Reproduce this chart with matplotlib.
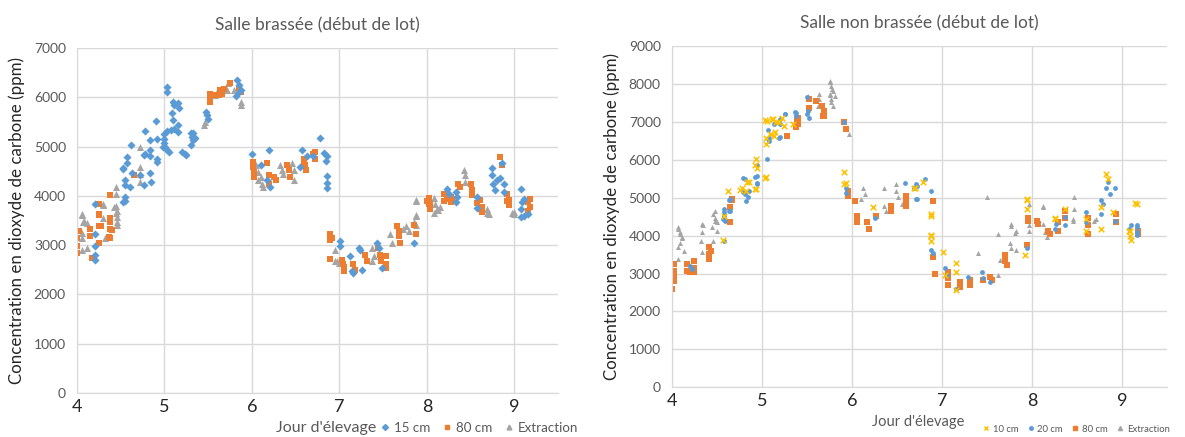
import matplotlib
matplotlib.use("Agg")
import matplotlib.pyplot as plt
from matplotlib.lines import Line2D

plt.rcParams['font.family'] = ['Lato', 'DejaVu Sans']

# ---- Salle brassée (day, ppm) ----
brasse_15cm = [
    (4.21, 3830), (4.55, 3900), (4.21, 3220), (4.21, 2980), (4.21, 2810), (4.21, 2700),
    (4.52, 3880), (4.55, 3980), (4.57, 4790), (4.57, 4670), (4.53, 4560), (4.52, 4540),
    (4.55, 4320), (4.55, 4220), (4.60, 4180), (4.63, 4470), (4.62, 5030),
    (4.72, 4420), (4.76, 4220), (4.84, 4290), (4.83, 4460), (4.91, 4760), (4.91, 4680),
    (4.90, 5530), (4.78, 5320), (4.83, 5130), (4.91, 5150), (4.83, 4930), (4.78, 4860),
    (4.76, 4830), (4.83, 4810),
    (5.00, 5150), (5.00, 5080), (5.01, 5000), (5.03, 4930), (5.05, 4900), (5.00, 5250),
    (5.03, 5320), (4.98, 5000),
    (5.03, 6220), (5.03, 6120), (5.10, 5900), (5.11, 5850), (5.16, 5880), (5.17, 5780),
    (5.09, 5680), (5.10, 5540), (5.16, 5440), (5.11, 5350), (5.08, 5330), (5.16, 5300),
    (5.20, 4900), (5.24, 4860), (5.25, 4830), (5.30, 5030), (5.32, 5200), (5.33, 5270),
    (5.35, 5170), (5.33, 5130), (5.30, 5270),
    (5.47, 5710), (5.49, 5640), (5.50, 5570),
    (5.83, 6350), (5.85, 6250), (5.82, 6020), (5.85, 6120), (5.87, 6150),
    (6.00, 4860), (6.10, 4620), (6.17, 4320), (6.21, 4180), (6.20, 4930),
    (6.55, 4590), (6.57, 4930), (6.63, 4810), (6.70, 4810), (6.78, 5180), (6.82, 4880),
    (6.86, 4810), (6.85, 4710), (6.86, 4400), (6.86, 4270), (6.86, 4170),
    (7.01, 3080), (7.01, 2980), (7.12, 2780), (7.14, 2470), (7.16, 2440), (7.22, 2950),
    (7.24, 2910), (7.26, 2500), (7.43, 3050), (7.45, 2950), (7.49, 2540), (7.85, 3050),
    (8.23, 4150), (8.25, 4050), (8.33, 4080), (8.33, 3870), (8.34, 3980), (8.57, 3980),
    (8.57, 3760),
    (8.74, 4560), (8.74, 4420), (8.76, 4250), (8.78, 4120), (8.80, 4320), (8.84, 4360),
    (8.88, 4250), (8.88, 4080), (8.86, 4660),
    (9.07, 4150), (9.07, 3740), (9.07, 3570), (9.09, 3870), (9.11, 3600), (9.15, 3640),
    (9.11, 3930),
]
brasse_80cm = [
    (4.00, 3150), (4.00, 2980), (4.00, 2840), (4.02, 3290), (4.15, 3320), (4.15, 3180),
    (4.17, 2740), (4.25, 3830), (4.25, 3630), (4.25, 3610), (4.25, 3390), (4.25, 3050),
    (4.27, 3400), (4.38, 4010), (4.38, 3560), (4.38, 3490), (4.38, 3320), (4.38, 3150),
    (4.40, 3300), (4.36, 3160), (4.38, 3540), (4.38, 3470), (4.65, 4420),
    (5.52, 6080), (5.52, 5980), (5.52, 5910), (5.56, 6050), (5.62, 6050), (5.64, 6150),
    (5.68, 6170), (5.66, 6080), (5.75, 6300), (5.85, 6200), (5.87, 6120),
    (6.01, 4690), (6.01, 4590), (6.02, 4490), (6.02, 4390), (6.17, 4660), (6.19, 4420),
    (6.19, 4250), (6.25, 4390), (6.27, 4320), (6.40, 4630), (6.42, 4520), (6.43, 4390),
    (6.60, 4700), (6.60, 4600), (6.62, 4530), (6.70, 4860), (6.72, 4760), (6.59, 4760),
    (6.61, 4620), (6.72, 4900),
    (6.89, 3220), (6.89, 3110), (6.91, 3150), (6.89, 2720), (7.03, 2710), (7.04, 2610),
    (7.05, 2470), (7.05, 2560), (7.16, 2610), (7.18, 2500), (7.29, 2810), (7.31, 2670),
    (7.44, 2950), (7.46, 2810), (7.48, 2670), (7.53, 2780), (7.53, 2610), (7.53, 2540),
    (7.66, 3390), (7.68, 3290), (7.68, 3180), (7.69, 3050), (7.87, 3220), (7.85, 3420),
    (8.00, 3900), (8.02, 3830), (8.02, 3950), (8.04, 3840), (8.04, 3740), (8.19, 4050),
    (8.19, 3900), (8.23, 3930), (8.27, 3980), (8.28, 3880), (8.29, 3930), (8.36, 4250),
    (8.38, 4180), (8.50, 4250), (8.52, 4120), (8.52, 4010), (8.57, 3860), (8.61, 3910),
    (8.63, 3770), (8.63, 3670), (8.61, 3730),
    (8.84, 4790), (8.86, 4620), (8.92, 4050), (8.94, 3910), (8.94, 3810), (8.92, 3900),
    (9.16, 3880), (9.18, 3770), (9.16, 3670), (9.15, 3690), (9.18, 3930),
]
brasse_extraction = [
    (4.06, 3630), (4.08, 3490), (4.11, 3460), (4.06, 3610), (4.07, 3470), (4.06, 3250),
    (4.06, 3150), (4.11, 2950), (4.06, 2910), (4.30, 3830), (4.30, 3560), (4.32, 3150),
    (4.30, 3810), (4.44, 3800), (4.44, 3660), (4.46, 3420), (4.42, 3770), (4.46, 3700),
    (4.46, 3570), (4.46, 3470), (4.44, 4180), (4.44, 4050),
    (4.72, 5000), (4.72, 4590), (4.72, 4450), (4.72, 4280),
    (5.45, 5440), (5.46, 5510), (5.58, 6050), (5.60, 6120), (5.71, 6150), (5.73, 6290),
    (5.80, 6150), (5.87, 5910), (5.87, 5840),
    (6.05, 4620), (6.07, 4480), (6.10, 4390), (6.11, 4250), (6.13, 4180), (6.07, 4320),
    (6.32, 4620), (6.34, 4520), (6.36, 4450), (6.46, 4660), (6.48, 4520), (6.48, 4320),
    (6.95, 2910), (6.95, 2670), (6.99, 2630), (6.97, 2670), (7.37, 2950), (7.39, 2780),
    (7.37, 2670), (7.58, 3220), (7.60, 3050), (7.73, 3320), (7.76, 3390), (7.80, 3290),
    (7.87, 3590), (7.87, 3420), (7.88, 3900), (7.87, 3910), (7.87, 3610), (7.85, 3470),
    (8.08, 3660), (8.11, 3730), (8.08, 3950), (8.09, 3840), (8.15, 3770), (8.13, 3710),
    (8.42, 4520), (8.44, 4420), (8.44, 4280), (8.69, 3660), (8.69, 3740), (8.71, 3640),
    (8.97, 3660), (8.99, 3670), (9.00, 3640),
]

# ---- Salle non brassée (day, ppm) ----
nonbrasse_10cm = [
    (4.58, 4530), (4.62, 5190), (4.78, 5270), (4.82, 5190), (4.86, 5410), (4.93, 6020),
    (4.95, 5800), (4.93, 5230), (5.04, 5540), (5.04, 6420), (5.06, 7030), (5.12, 7080),
    (5.19, 6990), (5.22, 7120), (5.24, 6900), (5.04, 6590), (5.13, 6640),
    (5.03, 7050), (5.11, 7090), (5.16, 7000), (5.09, 6690), (5.15, 6740), (5.35, 6960),
    (5.03, 5510), (4.92, 5860), (4.83, 5420), (4.76, 5200), (4.92, 5240), (4.57, 3880),
    (5.91, 5670), (5.91, 5360), (5.93, 5400), (6.23, 4750), (6.69, 5270), (6.70, 5270),
    (6.79, 5410), (6.88, 4530), (6.88, 4000), (6.88, 4560), (6.88, 4030), (6.88, 3850),
    (7.01, 3580), (7.16, 3270), (7.16, 3050), (7.03, 2960), (7.16, 2560), (7.92, 3490),
    (7.94, 4960), (7.94, 4930), (7.94, 4700), (8.25, 4440), (8.25, 4470), (8.36, 4700),
    (8.60, 4440), (8.60, 4130), (8.77, 4180), (8.77, 4750), (8.82, 5630), (8.84, 5500),
    (8.90, 4620), (9.16, 4840), (9.14, 4870), (9.08, 4130), (9.09, 4000), (9.10, 3890),
    (9.09, 4120),
]
nonbrasse_20cm = [
    (4.20, 3210), (4.22, 3130), (4.58, 3870), (4.58, 4620), (4.65, 4660),
    (4.58, 4700), (4.58, 4530), (4.59, 4400), (4.63, 4660), (4.65, 4970), (4.81, 5490),
    (4.81, 5100), (4.82, 4920), (4.86, 5190), (4.95, 5580), (4.95, 5360), (5.06, 6020),
    (5.08, 6590), (5.08, 6500), (5.19, 6590), (5.20, 7080), (5.26, 7210), (5.38, 7250),
    (5.38, 7170), (5.52, 7120), (5.51, 7300),
    (5.26, 7220), (5.37, 7270), (5.50, 7660), (5.50, 7220), (5.20, 6960), (5.20, 6610),
    (5.13, 6960), (5.07, 6560), (5.07, 6780), (4.92, 5550), (4.79, 5510), (4.94, 5860),
    (4.94, 5380), (4.79, 5150), (4.85, 5020), (4.63, 4930), (4.57, 4450),
    (5.91, 6990), (5.93, 5270), (5.93, 5140), (6.25, 4480), (6.71, 5360), (6.69, 5270),
    (6.71, 4970),
    (6.59, 5380), (6.72, 5320), (6.72, 4970), (6.81, 5500), (6.88, 5190), (6.88, 3630),
    (6.90, 3540), (7.03, 3140), (7.05, 2960), (7.16, 2600), (7.29, 2920), (7.44, 3050),
    (7.45, 2870), (7.53, 2780), (7.94, 3670), (8.77, 4930), (8.79, 4840), (8.82, 5270),
    (8.84, 5410), (8.86, 5100), (8.92, 5270), (8.36, 4500), (8.36, 4270), (8.25, 4180),
    (8.27, 4310), (8.60, 4620), (8.60, 4350), (9.08, 4180), (9.16, 4220), (9.16, 4090),
    (8.77, 4570), (8.92, 4400), (9.10, 4290), (9.16, 4290), (9.16, 4030),
]
nonbrasse_80cm = [
    (4.00, 2590), (4.02, 2810), (4.02, 2940), (4.02, 3070), (4.02, 3250), (4.17, 3250),
    (4.17, 3070), (4.20, 3030), (4.24, 3340), (4.24, 3160), (4.24, 3030), (4.41, 3690),
    (4.41, 3520), (4.41, 3380), (4.43, 3600), (4.65, 4350), (4.65, 4750), (4.67, 4930),
    (4.67, 4970),
    (5.28, 6640), (5.40, 7120), (5.40, 6940), (5.38, 6860), (5.52, 7600), (5.52, 7380),
    (5.60, 7550), (5.67, 7430), (5.69, 7300), (5.69, 7170), (5.93, 6810), (5.91, 6990),
    (5.39, 7090), (5.39, 6960), (5.68, 7170),
    (5.95, 5190), (5.95, 5060), (6.03, 4920), (6.05, 4530), (6.05, 4350), (6.17, 4350),
    (6.19, 4180), (6.27, 4530), (6.43, 4790), (6.43, 4660), (6.60, 5020), (6.60, 5060),
    (6.60, 4880), (6.60, 4790), (6.90, 4920),
    (6.90, 3450), (6.92, 3000), (7.07, 3050), (7.07, 2870), (7.07, 2690), (7.20, 2780),
    (7.20, 2650), (7.31, 2830), (7.31, 2690), (7.45, 2830), (7.53, 2920), (7.55, 2830),
    (7.70, 3490), (7.70, 3320), (7.72, 3230), (7.94, 3760),
    (7.95, 4480), (7.95, 4400), (8.05, 4400), (8.07, 4310), (8.18, 4130), (8.20, 4050),
    (8.29, 4130), (8.29, 4350), (8.36, 4660), (8.36, 4480), (8.62, 4480), (8.62, 4270),
    (8.62, 4050), (8.93, 4570), (8.93, 4350), (9.17, 4130), (9.17, 4050),
]
nonbrasse_extraction = [
    (4.07, 4180), (4.09, 4040), (4.11, 3950), (4.07, 4220), (4.09, 4090), (4.11, 3960),
    (4.09, 3820), (4.07, 3690), (4.13, 3600), (4.07, 3380), (4.35, 4270), (4.33, 4310),
    (4.33, 4090), (4.32, 3870), (4.33, 3560), (4.46, 4570), (4.48, 4400), (4.45, 4220),
    (4.46, 3870), (4.48, 4660), (4.48, 4480), (4.50, 4350), (4.50, 4130),
    (5.51, 7700), (5.62, 7430), (5.63, 7610), (5.63, 7740), (5.75, 8090), (5.77, 7960),
    (5.79, 7820), (5.75, 7740), (5.77, 7610), (5.77, 7520), (5.79, 7430), (5.81, 7700),
    (5.76, 8060), (5.78, 7880), (5.76, 7710), (5.61, 7620), (5.97, 6680),
    (6.10, 4970), (6.12, 5270), (6.14, 5100), (6.36, 5270), (6.36, 4790), (6.38, 4660),
    (6.49, 5360), (6.49, 5190), (6.51, 5010), (6.55, 4840),
    (7.40, 3540), (7.50, 5010), (7.62, 4040), (7.64, 3360), (7.62, 2960), (7.75, 3800),
    (7.77, 3670), (7.77, 4310), (7.77, 4250), (7.81, 4070), (7.82, 3630), (7.82, 4130),
    (7.97, 4840), (7.97, 4120), (7.97, 4290), (8.12, 4750), (8.12, 4780), (8.12, 4310),
    (8.14, 4090), (8.16, 3960), (8.45, 4400), (8.45, 4430), (8.47, 5010), (8.47, 4700),
    (8.69, 4400), (8.71, 4430),
]

BLUE = "#5B9BD5"
ORANGE = "#ED7D31"
GRAY = "#A5A5A5"
YELLOW = "#FFC000"
TXT = "#595959"
GRID = "#D9D9D9"


def style_axes(ax, ymax, ystep, title):
    ax.set_xlim(4, 9.5)
    ax.set_ylim(0, ymax)
    ax.set_xticks([4, 5, 6, 7, 8, 9])
    ax.set_yticks(range(0, ymax + 1, ystep))
    ax.grid(True, color=GRID, linewidth=1)
    ax.set_axisbelow(True)
    for s in ["top", "right"]:
        ax.spines[s].set_visible(False)
    for s in ["left", "bottom"]:
        ax.spines[s].set_color(GRID)
    ax.tick_params(length=0, colors=TXT)
    ax.tick_params(axis="y", labelsize=10, pad=8)
    ax.tick_params(axis="x", labelsize=13, pad=4, colors="#262626")
    ax.set_ylabel("Concentration en dioxyde de carbone (ppm)", fontsize=12.2,
                  color="#262626", labelpad=6)
    ax.set_title(title, fontsize=12.5, color=TXT, pad=13)


def scatter(ax, pts, **kw):
    xs = [p[0] for p in pts]
    ys = [p[1] for p in pts]
    ax.scatter(xs, ys, **kw)


fig = plt.figure(figsize=(11.85, 4.37), dpi=100)

# left chart
ax1 = fig.add_axes([0.065, 0.1007, 0.406, 0.789])
scatter(ax1, brasse_extraction, marker="^", s=26, color=GRAY, linewidths=0)
scatter(ax1, brasse_80cm, marker="s", s=20, color=ORANGE, linewidths=0)
scatter(ax1, brasse_15cm, marker="D", s=17, color=BLUE, linewidths=0)
style_axes(ax1, 7000, 1000, "Salle brassée (début de lot)")

# right chart
ax2 = fig.add_axes([0.567, 0.114, 0.418, 0.780])
scatter(ax2, nonbrasse_extraction, marker="^", s=13, color=GRAY, linewidths=0)
scatter(ax2, nonbrasse_80cm, marker="s", s=15, color=ORANGE, linewidths=0)
scatter(ax2, nonbrasse_20cm, marker="o", s=12, color=BLUE, linewidths=0)
scatter(ax2, nonbrasse_10cm, marker="x", s=16, color=YELLOW, linewidths=1.1)
style_axes(ax2, 9000, 1000, "Salle non brassée (début de lot)")

# x labels + legends (Excel-like, inline)
fig.text(0.275, 0.021, "Jour d'élevage", fontsize=11.5, color=TXT, ha="center", va="center")
h1 = [Line2D([], [], ls="", marker="D", ms=3, color=BLUE, label="15 cm"),
      Line2D([], [], ls="", marker="s", ms=3.5, color=ORANGE, label="80 cm"),
      Line2D([], [], ls="", marker="^", ms=3.5, color=GRAY, label="Extraction")]
fig.legend(handles=h1, loc="center left", bbox_to_anchor=(0.316, 0.021), ncol=3,
           frameon=False, fontsize=9.6, labelcolor=TXT, handlelength=0.6,
           handletextpad=0.4, columnspacing=0.9, borderpad=0)

fig.text(0.775, 0.034, "Jour d'élevage", fontsize=10.5, color=TXT, ha="center", va="center")
h2 = [Line2D([], [], ls="", marker="x", ms=3, mew=1, color=YELLOW, label="10 cm"),
      Line2D([], [], ls="", marker="o", ms=2.5, color=BLUE, label="20 cm"),
      Line2D([], [], ls="", marker="s", ms=3, color=ORANGE, label="80 cm"),
      Line2D([], [], ls="", marker="^", ms=3, color=GRAY, label="Extraction")]
fig.legend(handles=h2, loc="center left", bbox_to_anchor=(0.826, 0.018), ncol=4,
           frameon=False, fontsize=6.8, labelcolor=TXT, handlelength=0.6,
           handletextpad=0.4, columnspacing=1.0, borderpad=0)

fig.savefig("out.png", dpi=100)
